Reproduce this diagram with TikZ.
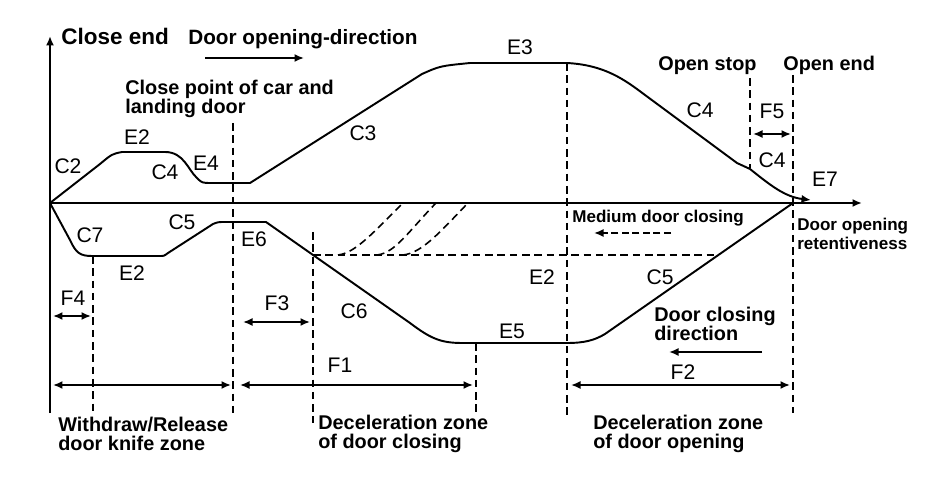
\documentclass[tikz,border=0pt]{standalone}
\usepackage{fontspec}
\setmainfont{Liberation Sans}
\usetikzlibrary{arrows.meta}

\begin{document}
\begin{tikzpicture}[x=0.02cm, y=-0.02cm, >={Latex[length=1.9mm,width=1.6mm]}]
        \tikzstyle{curve}=[line width=1.1pt, line join=round]
        \tikzstyle{guide}=[line width=0.9pt, dash pattern=on 4.3pt off 2.7pt]
        \tikzstyle{dim}=[line width=1pt, <->]
        \tikzstyle{lbl}=[font=\fontsize{12}{12}\selectfont, inner sep=0pt]
        \tikzstyle{note}=[font=\bfseries\fontsize{11.3}{10.8}\selectfont, inner sep=0pt, align=left]
        \tikzstyle{small}=[font=\bfseries\fontsize{9.7}{10.6}\selectfont, inner sep=0pt, align=left]
        \useasboundingbox (0,0) rectangle (940,486);

        % axes
        \coordinate (O) at (50,203);
        \coordinate (ytop) at (50,36);
        \coordinate (ybot) at (50,413);
        \coordinate (xend) at (862,203);
        \draw[curve,->] (ybot) -- (ytop);
        \draw[curve,->] (O) -- (xend);

        % opening curve
        \draw[curve,->] (O) -- (100,164) .. controls (112,154) .. (122,152) -- (165,152)
            .. controls (184,152) and (188,170) .. (197,178) .. controls (202,183) .. (212,183)
            -- (250,183) -- (422,74) .. controls (440,66) .. (470,63) -- (567,63)
            .. controls (605,65) and (625,80) .. (645,95) -- (737,163) -- (750,169)
            .. controls (770,185) and (785,197) .. (811,200);

        % closing curve
        \draw[curve] (O) -- (70,240) .. controls (76,253) and (80,256) .. (92,256) -- (160,256)
            .. controls (164,256) .. (168,253) -- (213,224) .. controls (218,222) .. (226,222)
            -- (266,222) -- (410,323) .. controls (430,338) and (440,343) .. (462,343) -- (567,343)
            .. controls (585,343) and (595,340) .. (605,334) -- (793,203);

        % medium closing
        \draw[guide] (313,255) -- (715,255);
        \draw[guide] (338,255) .. controls (355,253) and (372,234) .. (403,203);
        \draw[guide] (377,255) .. controls (395,253) and (408,232) .. (436,203);
        \draw[guide] (403,255) .. controls (422,253) and (440,232) .. (468,203);

        % vertical guides
        \foreach \gx/\gt/\gb in {93/256/412, 233/123/413, 313/232/423, 476/343/413,
                                 567/63/415, 750/78/168, 793/75/413}
            \draw[guide] (\gx,\gt) -- (\gx,\gb);

        % dimensions
        \draw[dim] (53,316) -- (91,316);
        \draw[dim] (243,322) -- (310,322);
        \draw[dim] (753,134) -- (791,134);
        \draw[dim] (53,385) -- (231,385);
        \draw[dim] (240,385) -- (473,385);
        \draw[dim] (571,385) -- (790,385);

        % direction arrows
        \draw[line width=1pt,->] (205,58) -- (304,58);
        \draw[line width=1pt,->] (762,352) -- (669,352);
        \draw[line width=1pt,->,dash pattern=on 4pt off 2pt] (671,233) -- (594,233);

        % curve labels
        \node[lbl] (c2)  at (68,166)  {C2};
        \node[lbl] (e2a) at (137,137) {E2};
        \node[lbl] (c4a) at (165,172) {C4};
        \node[lbl] (e4)  at (206,163) {E4};
        \node[lbl] (c3)  at (363,133) {C3};
        \node[lbl] (e3)  at (520,47)  {E3};
        \node[lbl] (c4b) at (700,110) {C4};
        \node[lbl] (f5)  at (772,111) {F5};
        \node[lbl] (c4c) at (772,160) {C4};
        \node[lbl] (e7)  at (825,179) {E7};
        \node[lbl] (c7)  at (90,235)  {C7};
        \node[lbl] (c5a) at (182,222) {C5};
        \node[lbl] (e2b) at (132,273) {E2};
        \node[lbl] (e6)  at (254,239) {E6};
        \node[lbl] (f4)  at (73,298)  {F4};
        \node[lbl] (f3)  at (277,303) {F3};
        \node[lbl] (c6)  at (354,311) {C6};
        \node[lbl] (e5)  at (512,331) {E5};
        \node[lbl] (e2c) at (542,277) {E2};
        \node[lbl] (f1)  at (340,365) {F1};
        \node[lbl] (c5b) at (660,277) {C5};
        \node[lbl] (f2)  at (683,372) {F2};

        % zone texts
        \node[note, font=\bfseries\fontsize{12.8}{12}\selectfont, anchor=base west] (closeend) at (61,45) {Close end};
        \node[note, font=\bfseries\fontsize{11.8}{12}\selectfont, anchor=base west] (opendir) at (188,45) {Door opening-direction};
        \node[note, anchor=north west] (closept) at (125,80) {Close point of car and\\landing door};
        \node[note, anchor=base west] (openstop) at (658,71) {Open stop};
        \node[note, anchor=base west] (openend) at (783,71) {Open end};
        \node[small, anchor=base west] (medium) at (572,223) {Medium door closing};
        \node[small, anchor=north west] (retent) at (797,218) {Door opening\\retentiveness};
        \node[note, anchor=north west] (closedir) at (654,307) {Door closing\\direction};
        \node[note, anchor=north west] (knife) at (58,417) {Withdraw/Release\\door knife zone};
        \node[note, anchor=north west] (decclose) at (318,415) {Deceleration zone\\of door closing};
        \node[note, anchor=north west] (decopen) at (593,415) {Deceleration zone\\of door opening};
    \end{tikzpicture}
\end{document}
